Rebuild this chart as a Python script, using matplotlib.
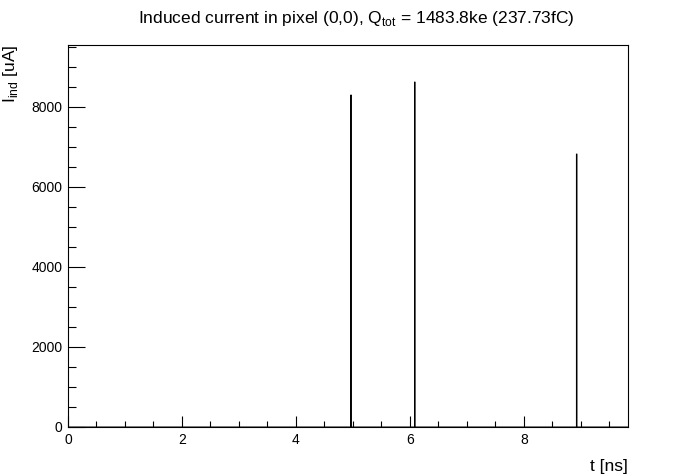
import matplotlib
matplotlib.use("Agg")
import matplotlib.pyplot as plt
import numpy as np
from matplotlib.ticker import MultipleLocator

# Data
spike_times = [4.965, 6.08, 8.92]      # ns
spike_values = [8300, 8625, 6825]      # uA
bin_width = 0.01                        # ns
x_range = (0.0, 9.825)
y_max = 9550

plt.rcParams['font.family'] = ['Liberation Sans', 'DejaVu Sans']

# Build histogram contents
edges = np.arange(x_range[0], x_range[1] + bin_width, bin_width)
counts = np.zeros(len(edges) - 1)
for t, v in zip(spike_times, spike_values):
    idx = int(np.floor((t - x_range[0]) / bin_width))
    counts[idx] = v

fig = plt.figure(figsize=(6.98, 4.75), dpi=100)
ax = fig.add_axes([68/698, 1 - 427/475, (628-68)/698, (427-45)/475])
ax.stairs(counts, edges, color='black', linewidth=0.7)

ax.set_xlim(*x_range)
ax.set_ylim(0, y_max)

ax.xaxis.set_major_locator(MultipleLocator(2))
ax.xaxis.set_minor_locator(MultipleLocator(0.5))
ax.yaxis.set_major_locator(MultipleLocator(2000))
ax.yaxis.set_minor_locator(MultipleLocator(500))
ax.tick_params(axis='x', which='major', direction='in', length=8, width=0.8, labelsize=10, pad=4, top=False)
ax.tick_params(axis='x', which='minor', direction='in', length=4.3, width=0.8, top=False)
ax.tick_params(axis='y', which='major', direction='in', length=12, width=0.8, labelsize=10, pad=4, right=False)
ax.tick_params(axis='y', which='minor', direction='in', length=6, width=0.8, right=False)
for s in ax.spines.values():
    s.set_linewidth(0.8)

fig.text(356/698, 1 - 18/475, r'Induced current in pixel (0,0), Q$_{\mathregular{tot}}$ = 1483.8ke (237.73fC)',
         ha='center', va='center', fontsize=12.5)
fig.text(628/698, 1 - 466/475, 't [ns]', ha='right', va='center', fontsize=12.5)
fig.text(11/698, 1 - 45/475, r'I$_{\mathregular{ind}}$ [uA]', ha='center', va='top', rotation=90, fontsize=12.5)

fig.savefig('out.png', dpi=100)
